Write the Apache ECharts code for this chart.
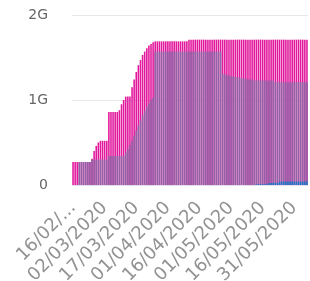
<!DOCTYPE html>
<html>
<head>
<meta charset="utf-8">
<script src="https://cdn.jsdelivr.net/npm/echarts@6/dist/echarts.min.js"></script>
<style>
  html, body { margin: 0; padding: 0; background: #fff; }
  #main { width: 310px; height: 281px; }
</style>
</head>
<body>
<div id="main"></div>
<script>
// daily categories, 16/02/2020 .. 06/06/2020
var startDate = Date.UTC(2020, 1, 16);
var dayCount = 112;
var categories = [];
for (var d = 0; d < dayCount; d++) {
  var t = new Date(startDate + d * 86400000);
  var dd = ('0' + t.getUTCDate()).slice(-2);
  var mm = ('0' + (t.getUTCMonth() + 1)).slice(-2);
  categories.push(dd + '/' + mm + '/' + t.getUTCFullYear());
}

// values in G
var totalValues = [
  0.27, 0.27, 0.27, 0.27, 0.27, 0.27, 0.27, 0.27, 0.27, 0.31,
  0.40, 0.46, 0.50, 0.52, 0.52, 0.52, 0.52, 0.86, 0.86, 0.86,
  0.86, 0.86, 0.88, 0.95, 1.00, 1.04, 1.04, 1.04, 1.15, 1.24,
  1.33, 1.41, 1.47, 1.53, 1.57, 1.61, 1.64, 1.66, 1.68, 1.69,
  1.69, 1.69, 1.69, 1.69, 1.69, 1.69, 1.69, 1.69, 1.69, 1.69,
  1.69, 1.69, 1.69, 1.69, 1.69, 1.71, 1.71, 1.71, 1.71, 1.71,
  1.71, 1.71, 1.71, 1.71, 1.71, 1.71, 1.71, 1.71, 1.71, 1.71,
  1.71, 1.71, 1.71, 1.71, 1.71, 1.71, 1.71, 1.71, 1.71, 1.71,
  1.71, 1.71, 1.71, 1.71, 1.71, 1.71, 1.71, 1.71, 1.71, 1.71,
  1.71, 1.71, 1.71, 1.71, 1.71, 1.71, 1.71, 1.71, 1.71, 1.71,
  1.71, 1.71, 1.71, 1.71, 1.71, 1.71, 1.71, 1.71, 1.71, 1.71,
  1.71, 1.71
];
var usedValues = [
  0, 0, 0, 0.27, 0.27, 0.27, 0.27, 0.27, 0.27, 0.30,
  0.30, 0.30, 0.30, 0.30, 0.30, 0.30, 0.30, 0.34, 0.34, 0.34,
  0.34, 0.34, 0.34, 0.34, 0.34, 0.38, 0.42, 0.47, 0.52, 0.58,
  0.64, 0.70, 0.76, 0.82, 0.87, 0.92, 0.96, 1.00, 1.03, 1.57,
  1.57, 1.57, 1.57, 1.57, 1.57, 1.57, 1.57, 1.57, 1.57, 1.57,
  1.57, 1.57, 1.57, 1.57, 1.57, 1.57, 1.57, 1.57, 1.57, 1.57,
  1.57, 1.57, 1.57, 1.57, 1.57, 1.57, 1.57, 1.57, 1.57, 1.57,
  1.57, 1.31, 1.30, 1.29, 1.29, 1.28, 1.28, 1.27, 1.27, 1.26,
  1.26, 1.25, 1.25, 1.24, 1.24, 1.24, 1.23, 1.23, 1.23, 1.23,
  1.23, 1.23, 1.23, 1.23, 1.23, 1.23, 1.21, 1.21, 1.21, 1.21,
  1.21, 1.21, 1.21, 1.21, 1.21, 1.21, 1.21, 1.21, 1.21, 1.21,
  1.21, 1.21
];
var otherValues = [
  0, 0, 0, 0, 0, 0, 0, 0, 0, 0,
  0, 0, 0, 0, 0, 0, 0, 0, 0, 0,
  0, 0, 0, 0, 0, 0, 0, 0, 0, 0,
  0, 0, 0, 0, 0, 0, 0, 0, 0, 0,
  0, 0, 0, 0, 0, 0, 0, 0, 0, 0,
  0, 0, 0, 0, 0, 0, 0, 0, 0, 0,
  0, 0, 0, 0, 0, 0, 0, 0, 0, 0,
  0, 0, 0, 0, 0, 0, 0, 0, 0, 0,
  0, 0, 0, 0, 0, 0, 0, 0.01, 0.01, 0.01,
  0.01, 0.01, 0.01, 0.025, 0.025, 0.025, 0.025, 0.025, 0.04, 0.04,
  0.04, 0.04, 0.04, 0.04, 0.04, 0.04, 0.04, 0.04, 0.04, 0.04,
  0.04, 0.04
];
var yTicks = [0, 1, 2];

var chart = echarts.init(document.getElementById('main'));
chart.setOption({
  animation: false,
  textStyle: { fontFamily: 'DejaVu Sans' },
  grid: { left: 72, right: 2, top: 15, bottom: 96, outerBoundsMode: 'none' },
  xAxis: {
    type: 'category',
    data: categories,
    axisLine: { lineStyle: { color: '#e4e0ea' } },
    axisTick: { show: false },
    axisLabel: {
      interval: 14,
      rotate: 45,
      color: '#929292',
      fontSize: 18,
      margin: 20,
      formatter: function (v, i) {
        return i === 0 ? v.slice(0, 6) + '...' : v;
      }
    }
  },
  yAxis: {
    type: 'value',
    min: yTicks[0],
    max: yTicks[yTicks.length - 1],
    interval: 1,
    axisLine: { show: false },
    axisTick: { show: false },
    splitLine: { lineStyle: { color: '#e8e8e8' } },
    axisLabel: {
      color: '#666',
      fontSize: 14,
      margin: 24,
      formatter: function (v) { return v === 0 ? '0' : v + 'G'; }
    }
  },
  series: [
    {
      name: 'total',
      type: 'bar',
      data: totalValues,
      barGap: '-100%',
      barCategoryGap: '25%',
      itemStyle: { color: '#e2189c' }
    },
    {
      name: 'used',
      type: 'bar',
      data: usedValues,
      itemStyle: { color: '#9262a7' }
    },
    {
      name: 'other',
      type: 'bar',
      data: otherValues,
      itemStyle: { color: '#1f78c8' }
    }
  ]
});
</script>
</body>
</html>
